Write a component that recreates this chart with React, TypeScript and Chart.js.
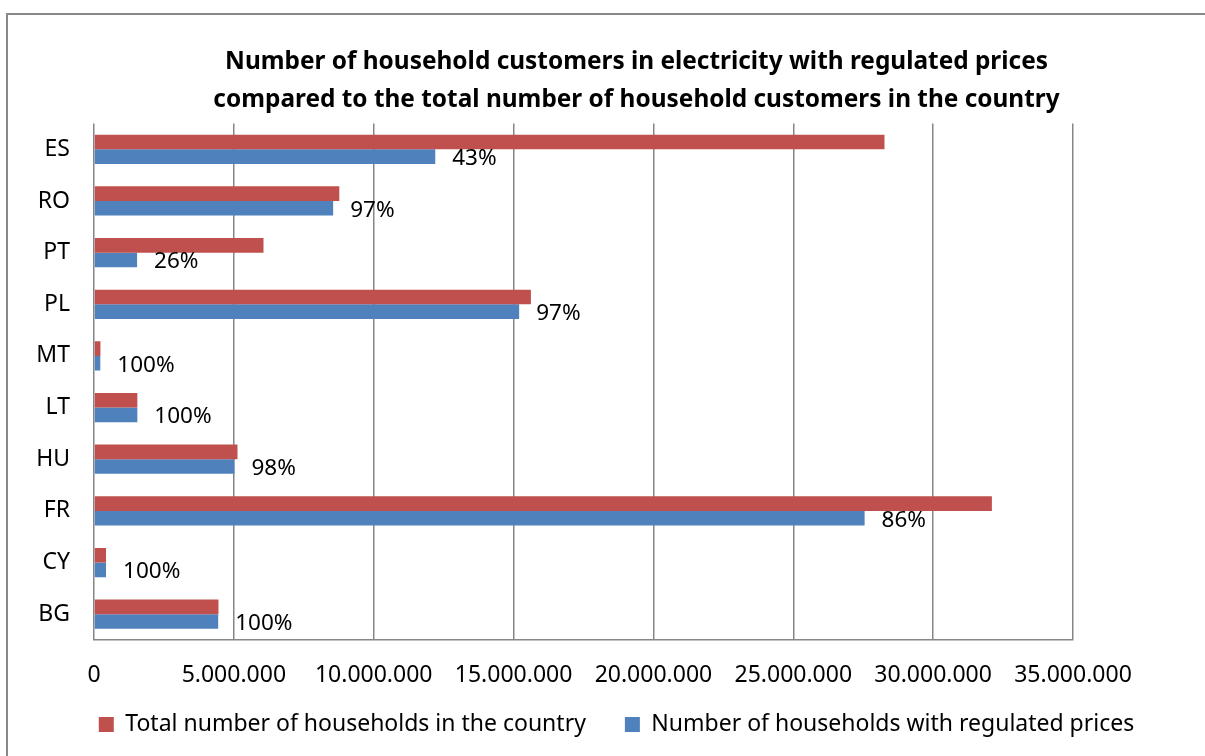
import React, { useEffect, useRef } from "react";
import { Chart, registerables } from "chart.js";

Chart.register(...registerables);

const categories = ["ES", "RO", "PT", "PL", "MT", "LT", "HU", "FR", "CY", "BG"];
const totalHouseholds = [28260000, 8770000, 6060000, 15620000, 230000, 1550000, 5130000, 32100000, 430000, 4450000];
const regulatedHouseholds = [12200000, 8550000, 1540000, 15200000, 225000, 1550000, 5020000, 27550000, 430000, 4440000];
const shareLabels = ["43%", "97%", "26%", "97%", "100%", "100%", "98%", "86%", "100%", "100%"];
const xTickValues = [0, 5000000, 10000000, 15000000, 20000000, 25000000, 30000000, 35000000];
const seriesNames = ["Total number of households in the country", "Number of households with regulated prices"];
const titleLines = [
  "Number of household customers in electricity with regulated prices",
  "compared to the total number of household customers in the country",
];

const FONT = "'Noto Sans', 'Open Sans', sans-serif";
const GRID = "#868686";

const fmt = (n: number) => String(Math.round(n)).replace(/\B(?=(\d{3})+(?!\d))/g, ".");

const shareLabelPlugin = {
  id: "shareLabels",
  afterDatasetsDraw(chart: any) {
    const meta = chart.getDatasetMeta(1);
    const ctx = chart.ctx;
    ctx.save();
    ctx.font = `22.5px ${FONT}`;
    ctx.fillStyle = "#000";
    ctx.textAlign = "left";
    ctx.textBaseline = "middle";
    meta.data.forEach((bar: any, i: number) => {
      ctx.fillText(shareLabels[i], bar.x + 17, bar.y + 2);
    });
    ctx.restore();
  },
};

const shiftPlugin = {
  id: "shiftBlocks",
  afterLayout(chart: any) {
    const t = chart.titleBlock;
    if (t) {
      t.left += 34;
      t.right += 34;
    }
    const l = chart.legend;
    if (l) {
      l.left += 14;
      l.right += 14;
    }
    const x = chart.scales.x;
    if (x) {
      x.bottom = x.top + 62;
    }
  },
};

export default function App() {
  const ref = useRef<HTMLCanvasElement | null>(null);

  useEffect(() => {
    if (!ref.current) return;
    const chart = new Chart(ref.current, {
      type: "bar",
      data: {
        labels: categories,
        datasets: [
          {
            label: seriesNames[0],
            data: totalHouseholds,
            backgroundColor: "#C0504D",
            borderWidth: 0,
            categoryPercentage: 0.567,
            barPercentage: 1,
          },
          {
            label: seriesNames[1],
            data: regulatedHouseholds,
            backgroundColor: "#4F81BD",
            borderWidth: 0,
            categoryPercentage: 0.567,
            barPercentage: 1,
          },
        ],
      },
      options: {
        indexAxis: "y",
        responsive: false,
        animation: false,
        layout: { padding: { left: 0, right: 0, top: 0, bottom: 0 } },
        scales: {
          x: {
            type: "linear",
            min: 0,
            max: 35000000,
            afterBuildTicks: (s: any) => {
              s.ticks = xTickValues.map((v) => ({ value: v }));
            },
            afterFit: (s: any) => {
              s.height = 34;
            },
            grid: { color: GRID, lineWidth: 1.5, drawTicks: false },
            border: { display: true, color: GRID, width: 1.5 },
            ticks: {
              padding: 22,
              color: "#000",
              maxRotation: 0,
              autoSkip: false,
              font: { family: FONT, size: 23 },
              callback: (v: any) => fmt(Number(v)),
            },
          },
          y: {
            type: "category",
            position: "left",
            afterFit: (s: any) => {
              s.width = 94;
            },
            grid: { display: false, drawTicks: false },
            border: { display: false },
            ticks: { padding: 24, color: "#000", font: { family: FONT, size: 23 } },
          },
          yRight: {
            type: "category",
            position: "right",
            afterFit: (s: any) => {
              s.width = 132;
            },
            grid: { display: false, drawTicks: false },
            border: { display: false },
            ticks: { display: false },
          },
        },
        plugins: {
          title: {
            display: true,
            text: titleLines,
            color: "#000",
            font: { family: FONT, size: 24.4, weight: "bold", lineHeight: 38 / 24.4 },
            padding: { top: 43, bottom: 4.5 },
          },
          legend: {
            position: "bottom",
            labels: {
              boxWidth: 15,
              boxHeight: 15,
              padding: 39,
              color: "#000",
              font: { family: FONT, size: 23 },
            },
          },
          tooltip: { enabled: false },
        },
      },
      plugins: [shareLabelPlugin, shiftPlugin],
    });
    return () => chart.destroy();
  }, []);

  return (
    <div
      style={{
        position: "fixed",
        left: 0,
        top: 0,
        width: 1205,
        height: 756,
        overflow: "hidden",
        background: "#fff",
      }}
    >
      <div
        style={{
          position: "absolute",
          left: 6,
          top: 13,
          width: 1400,
          height: 900,
          border: "2px solid #888888",
          boxSizing: "border-box",
        }}
      />
      <canvas ref={ref} width={1205} height={746} style={{ position: "absolute", left: 0, top: 0 }} />
    </div>
  );
}
